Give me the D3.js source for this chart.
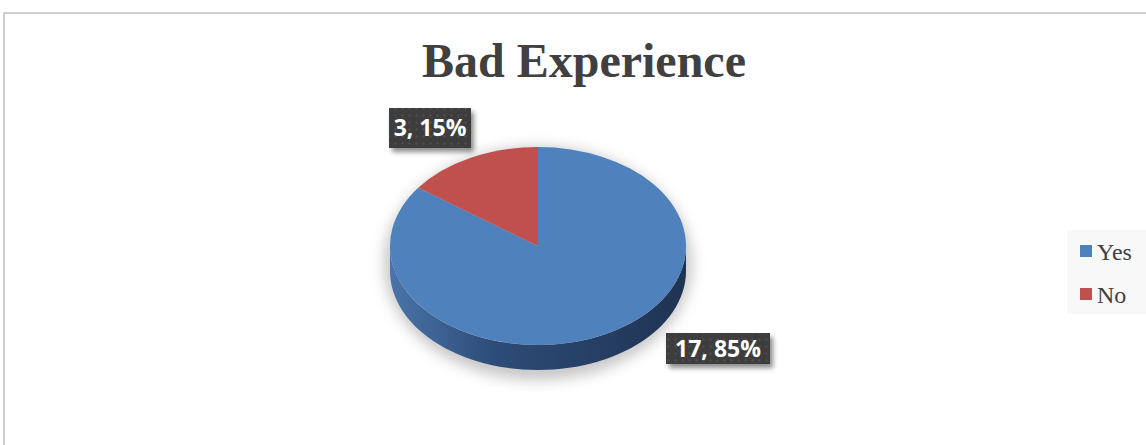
<!DOCTYPE html>
<html>
<head>
<meta charset="utf-8">
<script src="https://cdn.jsdelivr.net/npm/d3@7"></script>
<style>
  body { margin: 0; background: #fff; }
  svg { display: block; }
</style>
</head>
<body>
<svg></svg>
<script>
var categories = ['Yes', 'No'];
var values = [17, 3];
var colors = ['#4f81bd', '#c0504d'];
var title = 'Bad Experience';

var width = 1146;
var height = 445;

var cx = 538, cy = 246;
var rx = 148, ry = 99;
var depth = 25;

var svg = d3.select('svg')
  .attr('width', width)
  .attr('height', height);

var defs = svg.append('defs');

var sideGrad = defs.append('linearGradient')
  .attr('id', 'side')
  .attr('x1', '0%').attr('x2', '100%');
sideGrad.append('stop').attr('offset', '0%').attr('stop-color', '#4a74aa');
sideGrad.append('stop').attr('offset', '35%').attr('stop-color', '#2d4c78');
sideGrad.append('stop').attr('offset', '100%').attr('stop-color', '#1f3352');

var blur = defs.append('filter').attr('id', 'blur')
  .attr('x', '-20%').attr('y', '-20%').attr('width', '140%').attr('height', '140%');
blur.append('feGaussianBlur').attr('stdDeviation', 7);

var shadow = defs.append('filter').attr('id', 'boxShadow')
  .attr('x', '-20%').attr('y', '-30%').attr('width', '150%').attr('height', '180%');
shadow.append('feDropShadow')
  .attr('dx', 3).attr('dy', 4).attr('stdDeviation', 2.5)
  .attr('flood-color', '#000').attr('flood-opacity', 0.45);

var dots = defs.append('pattern').attr('id', 'dots')
  .attr('width', 7).attr('height', 7)
  .attr('patternUnits', 'userSpaceOnUse');
dots.append('rect').attr('width', 7).attr('height', 7).attr('fill', '#3d3d3d');
dots.append('circle').attr('cx', 3.5).attr('cy', 3.5).attr('r', 1.2).attr('fill', '#4d4d4d');

// chart border
svg.append('rect')
  .attr('x', 4).attr('y', 13)
  .attr('width', 1160).attr('height', 460)
  .attr('fill', 'none')
  .attr('stroke', '#bfbfbf')
  .attr('stroke-width', 1.5);

svg.append('text')
  .attr('x', 584).attr('y', 77)
  .attr('text-anchor', 'middle')
  .style('font-family', '"Liberation Serif", "Times New Roman", serif')
  .style('font-weight', 'bold')
  .style('font-size', '48px')
  .style('fill', '#404040')
  .text(title);

var total = d3.sum(values);
var data = categories.map((c, i) => ({ name: c, value: values[i], color: colors[i] }));

var pie = d3.pie()
  .sort(null)
  .value(d => d.value);
var arcs = pie(data);

// soft shadow behind the disc
svg.append('ellipse')
  .attr('cx', cx).attr('cy', cy + depth / 2 + 5)
  .attr('rx', rx + 6).attr('ry', ry + depth / 2 + 5)
  .attr('fill', '#a8a8a8')
  .attr('opacity', 0.65)
  .attr('filter', 'url(#blur)');

function pt(a, dy) {
  return [cx + rx * Math.sin(a), cy - ry * Math.cos(a) + dy];
}

// visible side walls (front half)
arcs.forEach(a => {
  var a0 = Math.max(a.startAngle, Math.PI / 2);
  var a1 = Math.min(a.endAngle, Math.PI * 3 / 2);
  if (a1 <= a0) return;
  var steps = d3.range(0, 61).map(i => a0 + (a1 - a0) * i / 60);
  var top = steps.map(s => pt(s, 0));
  var bottom = steps.slice().reverse().map(s => pt(s, depth));
  svg.append('path')
    .attr('d', d3.line()(top.concat(bottom)) + 'Z')
    .attr('fill', a.data.name === 'Yes' ? 'url(#side)' : d3.color(a.data.color).darker(1.2));
});

var arc = d3.arc().innerRadius(0).outerRadius(rx);

svg.append('g')
  .attr('transform', `translate(${cx},${cy}) scale(1,${ry / rx})`)
  .selectAll('path')
  .data(arcs)
  .enter()
  .append('path')
  .attr('d', arc)
  .attr('fill', d => d.data.color);

// data labels
var labelBoxes = {
  Yes: { x: 666, y: 333, w: 104, h: 31 },
  No: { x: 389, y: 108, w: 82, h: 40 }
};

arcs.forEach(a => {
  var b = labelBoxes[a.data.name];
  var g = svg.append('g');
  g.append('rect')
    .attr('x', b.x).attr('y', b.y)
    .attr('width', b.w).attr('height', b.h)
    .attr('fill', 'url(#dots)')
    .attr('filter', 'url(#boxShadow)');
  g.append('text')
    .attr('x', b.x + b.w / 2)
    .attr('y', b.y + b.h / 2 + 8)
    .attr('text-anchor', 'middle')
    .style('font-family', '"Open Sans", sans-serif')
    .style('font-weight', 'bold')
    .style('font-size', '23px')
    .style('fill', '#fff')
    .text(`${a.data.value}, ${Math.round(a.data.value / total * 100)}%`);
});

// legend
var legend = svg.append('g');
legend.append('rect')
  .attr('x', 1067).attr('y', 230)
  .attr('width', 90).attr('height', 84)
  .attr('fill', '#f8f8f8');

var item = legend.selectAll('.item')
  .data(data)
  .enter()
  .append('g')
  .attr('transform', (d, i) => `translate(1080,${245 + i * 43})`);

item.append('rect')
  .attr('width', 12).attr('height', 12)
  .attr('fill', d => d.color);

item.append('text')
  .attr('x', 17).attr('y', 15)
  .style('font-family', '"Liberation Serif", "Times New Roman", serif')
  .style('font-size', '24px')
  .style('fill', '#404040')
  .text(d => d.name);
</script>
</body>
</html>
